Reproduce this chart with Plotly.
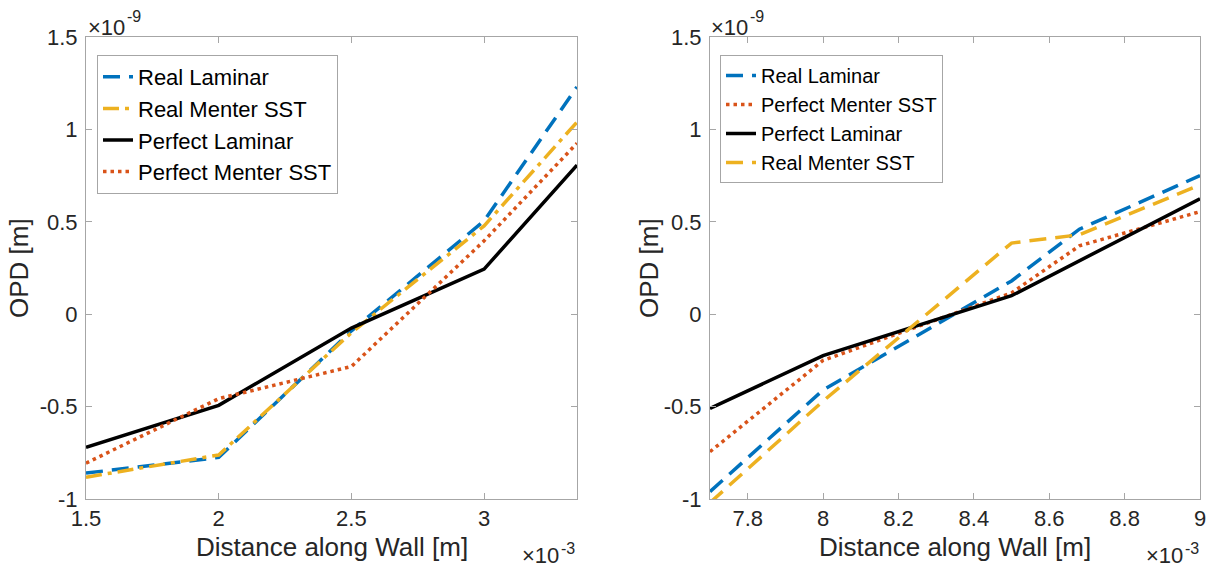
import plotly.graph_objects as go

# ---------------- data (x in units of 1e-3 m, y in units of 1e-9 m) ----------------
left_x = [1.5, 2.0, 2.5, 3.0, 3.35]
left_real_laminar = [-0.86, -0.775, -0.09, 0.505, 1.23]
left_real_menter = [-0.882, -0.762, -0.10, 0.478, 1.04]
left_perfect_laminar = [-0.72, -0.493, -0.075, 0.244, 0.807]
left_perfect_menter = [-0.806, -0.457, -0.283, 0.397, 0.925]

right_x = [7.7, 8.0, 8.5, 8.68, 9.0]
right_real_laminar = [-0.96, -0.41, 0.18, 0.46, 0.75]
right_perfect_menter = [-0.744, -0.25, 0.115, 0.37, 0.555]
right_perfect_laminar = [-0.51, -0.224, 0.10, 0.29, 0.625]
right_real_menter = [-1.02, -0.47, 0.385, 0.43, 0.70]

y_ticks = [-1, -0.5, 0, 0.5, 1, 1.5]
y_tick_labels = ["-1", "-0.5", "0", "0.5", "1", "1.5"]
left_x_ticks = [1.5, 2, 2.5, 3]
left_x_tick_labels = ["1.5", "2", "2.5", "3"]
right_x_ticks = [7.8, 8.0, 8.2, 8.4, 8.6, 8.8, 9.0]
right_x_tick_labels = ["7.8", "8", "8.2", "8.4", "8.6", "8.8", "9"]

# ---------------- styles ----------------
BLUE = "#0072BD"
RED = "#D95319"
YELLOW = "#EDB120"
BLACK = "#000000"
LW = 3.5
DASH = "17px,9px"
DASHDOT = "16px,6px,4px,6px"
DOT = "3.5px,4px"
FONT = "Liberation Sans, Arial, sans-serif"
TXT = "#262626"
AXC = "#a6a6a6"

W, H = 1211, 567

fig = go.Figure()

def add(x, y, name, color, dash, xa, ya, legend):
    fig.add_trace(go.Scatter(
        x=x, y=y, name=name, mode="lines",
        line=dict(color=color, width=LW, dash=dash),
        xaxis=xa, yaxis=ya, legend=legend,
    ))

add(left_x, left_real_laminar, "Real Laminar", BLUE, DASH, "x", "y", "legend")
add(left_x, left_real_menter, "Real Menter SST", YELLOW, DASHDOT, "x", "y", "legend")
add(left_x, left_perfect_laminar, "Perfect Laminar", BLACK, "solid", "x", "y", "legend")
add(left_x, left_perfect_menter, "Perfect Menter SST", RED, DOT, "x", "y", "legend")

add(right_x, right_real_laminar, "Real Laminar", BLUE, DASH, "x2", "y2", "legend2")
add(right_x, right_perfect_menter, "Perfect Menter SST", RED, DOT, "x2", "y2", "legend2")
add(right_x, right_perfect_laminar, "Perfect Laminar", BLACK, "solid", "x2", "y2", "legend2")
add(right_x, right_real_menter, "Real Menter SST", YELLOW, DASH, "x2", "y2", "legend2")

ax_common = dict(
    showgrid=False, zeroline=False, showline=True, linecolor=AXC, linewidth=1,
    mirror="ticks", ticks="inside", ticklen=6, tickcolor=AXC, tickwidth=1,
    tickfont=dict(family=FONT, size=22, color=TXT), automargin=False,
)
y_extra = dict(ticklabelstandoff=3)

yd = [1 - 499 / H, 1 - 37 / H]
left_dom = [86 / W, 577 / W]
right_dom = [710 / W, 1200 / W]

fig.update_layout(
    template="none",
    width=W, height=H,
    margin=dict(l=0, r=0, t=0, b=0, autoexpand=False),
    paper_bgcolor="white", plot_bgcolor="white",
    font=dict(family=FONT, color=TXT),
    xaxis=dict(domain=left_dom, range=[1.5, 3.35], tickmode="array",
               tickvals=left_x_ticks, ticktext=left_x_tick_labels, anchor="y", **ax_common),
    yaxis=dict(domain=yd, range=[-1, 1.5], tickmode="array",
               tickvals=y_ticks, ticktext=y_tick_labels, anchor="x", **ax_common, **y_extra),
    xaxis2=dict(domain=right_dom, range=[7.7, 9.0], tickmode="array",
                tickvals=right_x_ticks, ticktext=right_x_tick_labels, anchor="y2", **ax_common),
    yaxis2=dict(domain=yd, range=[-1, 1.5], tickmode="array",
                tickvals=y_ticks, ticktext=y_tick_labels, anchor="x2", **ax_common, **y_extra),
    legend=dict(x=97 / W, y=1 - 55 / H, xanchor="left", yanchor="top",
                bgcolor="white", bordercolor=AXC, borderwidth=1,
                font=dict(family=FONT, size=22, color=BLACK), itemwidth=30),
    legend2=dict(x=720 / W, y=1 - 55 / H, xanchor="left", yanchor="top",
                 bgcolor="white", bordercolor=AXC, borderwidth=1,
                 font=dict(family=FONT, size=20, color=BLACK), itemwidth=30),
    showlegend=True,
)

ann = []
def text(x, y, s, size, xanchor="center", yanchor="middle", angle=0):
    ann.append(dict(x=x / W, y=1 - y / H, xref="paper", yref="paper", text=s,
                    showarrow=False, xanchor=xanchor, yanchor=yanchor, textangle=angle,
                    font=dict(family=FONT, size=size, color=TXT), borderpad=0))

text(331.5, 547, "Distance along Wall [m]", 26)
text(955, 547, "Distance along Wall [m]", 26)
text(19, 268, "OPD [m]", 26, angle=-90)
text(649, 268, "OPD [m]", 26, angle=-90)
# exponent labels (base + superscript drawn as two texts)
text(126, 27, "×10", 22, xanchor="right")
text(126, 17, "-9", 16, xanchor="left")
text(749, 27, "×10", 22, xanchor="right")
text(749, 17, "-9", 16, xanchor="left")
text(560, 555, "×10", 22, xanchor="right")
text(560, 548, "-3", 16, xanchor="left")
text(1184, 555, "×10", 22, xanchor="right")
text(1184, 548, "-3", 16, xanchor="left")
fig.update_layout(annotations=ann)

fig.write_html("out.html")
